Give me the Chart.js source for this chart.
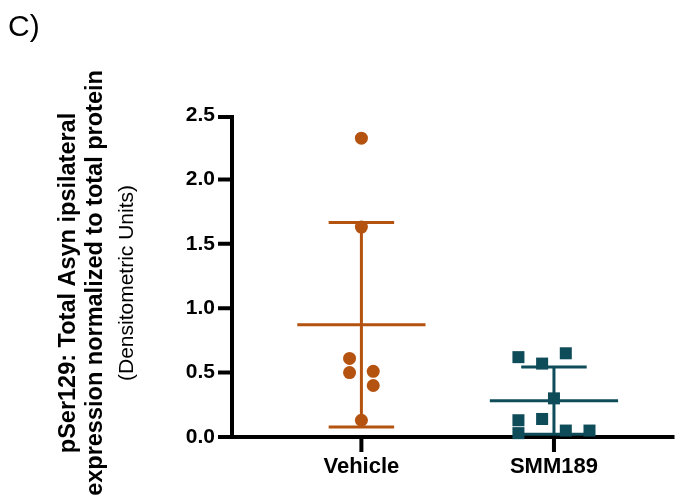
<!DOCTYPE html>
<html>
<head>
<meta charset="utf-8">
<script src="https://cdn.jsdelivr.net/npm/chart.js@4.4.1/dist/chart.umd.min.js"></script>
<style>
  html, body { margin: 0; padding: 0; background: #fff; }
  #wrap { width: 683px; height: 504px; position: relative; }
</style>
</head>
<body>
<div id="wrap"><canvas id="chart"></canvas></div>
<script>
// groups on the x axis
var groups = ['Vehicle', 'SMM189'];

// densitometry values per animal
var vehicleValues = [2.32, 1.63, 0.61, 0.50, 0.51, 0.40, 0.13];
var smmValues = [0.62, 0.57, 0.65, 0.30, 0.13, 0.03, 0.14, 0.05, 0.05];

// horizontal scatter slots so overlapping dots stay visible
var vehicleSlots = [0, 0, -1, -1, 1, 1, 0];
var smmSlots = [-3, -1, 1, 0, -3, -3, -1, 1, 3];

var yTicks = [0, 0.5, 1.0, 1.5, 2.0, 2.5];

var ORANGE = '#B4520F';
var TEAL = '#0F4C5A';
var FONT = '"Liberation Sans", Arial, sans-serif';

var SLOT = 0.0615;      // x units per scatter slot
var MEAN_HALF = 0.333;  // half length of the mean bar
var CAP_HALF = 0.17;    // half length of the SD caps
var AXIS_W = 4;

function mean(arr){
	var s = 0;
	arr.forEach(function(v){ s += v; });
	return s / arr.length;
}

function sd(arr){
	var m = mean(arr), s = 0;
	arr.forEach(function(v){ s += (v - m) * (v - m); });
	return Math.sqrt(s / (arr.length - 1));
}

function points(values, slots, gx){
	return values.map(function(v, i){
		return { x: gx + slots[i] * SLOT, y: v };
	});
}

// mean line, SD whisker and both caps for one group
function summaryLines(values, gx, color){
	var m = mean(values), d = sd(values);
	var base = {
		type: 'line',
		borderColor: color,
		borderWidth: 3,
		pointRadius: 0,
		fill: false,
		clip: false,
		order: 2
	};
	return [
		Object.assign({}, base, { data: [{x: gx - MEAN_HALF, y: m}, {x: gx + MEAN_HALF, y: m}] }),
		Object.assign({}, base, { data: [{x: gx, y: m - d}, {x: gx, y: m + d}] }),
		Object.assign({}, base, { data: [{x: gx - CAP_HALF, y: m + d}, {x: gx + CAP_HALF, y: m + d}] }),
		Object.assign({}, base, { data: [{x: gx - CAP_HALF, y: m - d}, {x: gx + CAP_HALF, y: m - d}] })
	];
}

var datasets = [
	{
		data: points(vehicleValues, vehicleSlots, 0),
		pointStyle: 'circle',
		pointRadius: 6.5,
		backgroundColor: ORANGE,
		borderColor: ORANGE,
		borderWidth: 0,
		clip: false,
		order: 0
	},
	{
		data: points(smmValues, smmSlots, 1),
		pointStyle: 'rect',
		pointRadius: 8.5,
		backgroundColor: TEAL,
		borderColor: TEAL,
		borderWidth: 0,
		clip: false,
		order: 0
	}
].concat(summaryLines(vehicleValues, 0, ORANGE), summaryLines(smmValues, 1, TEAL));

// heavy black axes and tick marks, placed from the chart's own scales
var axesPlugin = {
	id: 'heavyAxes',
	beforeDatasetsDraw: function(chart){
		var ctx = chart.ctx, area = chart.chartArea;
		var xs = chart.scales.x, ys = chart.scales.y;
		ctx.save();
		ctx.strokeStyle = '#000';
		ctx.lineWidth = AXIS_W;
		ctx.lineCap = 'butt';
		ctx.beginPath();
		// y axis
		ctx.moveTo(area.left, area.top);
		ctx.lineTo(area.left, area.bottom + AXIS_W / 2);
		// x axis
		ctx.moveTo(area.left - AXIS_W / 2, area.bottom);
		ctx.lineTo(area.right, area.bottom);
		yTicks.forEach(function(v){
			var py = ys.getPixelForValue(v);
			if (v === yTicks[yTicks.length - 1]) py += AXIS_W / 2;
			ctx.moveTo(area.left - 14, py);
			ctx.lineTo(area.left, py);
		});
		groups.forEach(function(g, i){
			var px = xs.getPixelForValue(i);
			ctx.moveTo(px, area.bottom);
			ctx.lineTo(px, area.bottom + 15);
		});
		ctx.stroke();
		ctx.restore();
	}
};

// panel letter and the stacked y axis title
var labelsPlugin = {
	id: 'panelLabels',
	afterDraw: function(chart){
		var ctx = chart.ctx;
		ctx.save();
		ctx.fillStyle = '#000';
		ctx.textBaseline = 'alphabetic';
		ctx.font = '30px ' + FONT;
		ctx.textAlign = 'left';
		ctx.fillText('C)', 8, 36);

		var cy = 283;
		var lines = [
			{ text: 'pSer129: Total Asyn ipsilateral', x: 75, font: 'bold 23.5px ' + FONT },
			{ text: 'expression normalized to total protein', x: 102, font: 'bold 23.5px ' + FONT },
			{ text: '(Densitometric Units)', x: 133, font: '21px ' + FONT }
		];
		lines.forEach(function(l){
			ctx.save();
			ctx.translate(l.x, cy);
			ctx.rotate(-Math.PI / 2);
			ctx.font = l.font;
			ctx.textAlign = 'center';
			ctx.fillText(l.text, 0, 0);
			ctx.restore();
		});
		ctx.restore();
	}
};

var hidden = 'rgba(0,0,0,0)';

new Chart(document.getElementById('chart'), {
	type: 'scatter',
	data: { datasets: datasets },
	options: {
		responsive: true,
		maintainAspectRatio: false,
		animation: false,
		layout: { padding: { top: 115, right: 3, left: 0, bottom: 0 } },
		plugins: {
			legend: { display: false },
			tooltip: { enabled: false }
		},
		scales: {
			x: {
				type: 'linear',
				min: -0.672,
				max: 1.626,
				afterBuildTicks: function(scale){
					scale.ticks = groups.map(function(g, i){ return { value: i }; });
				},
				afterFit: function(scale){ scale.height = 67; },
				ticks: {
					padding: 2,
					color: '#000',
					font: { family: FONT, size: 22, weight: 'bold' },
					callback: function(v){ return groups[v]; }
				},
				grid: { drawOnChartArea: false, tickLength: 15, color: hidden },
				border: { display: false }
			},
			y: {
				min: 0,
				max: 2.5,
				afterBuildTicks: function(scale){
					scale.ticks = yTicks.map(function(v){ return { value: v }; });
				},
				afterFit: function(scale){ scale.width = 232; },
				ticks: {
					padding: 3,
					color: '#000',
					font: { family: FONT, size: 21, weight: 'bold' },
					callback: function(v){ return v.toFixed(1); }
				},
				grid: { drawOnChartArea: false, tickLength: 14, color: hidden },
				border: { display: false }
			}
		}
	},
	plugins: [axesPlugin, labelsPlugin]
});
</script>
</body>
</html>
